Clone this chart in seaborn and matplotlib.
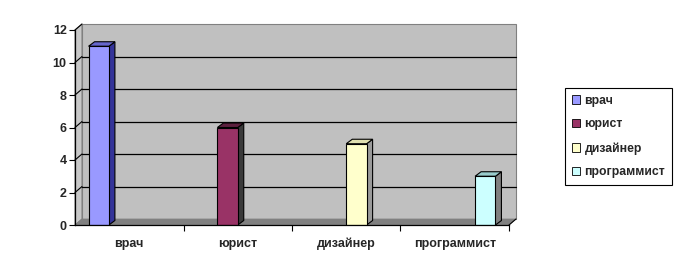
import matplotlib
matplotlib.use("Agg")
import matplotlib.pyplot as plt
import seaborn as sns
import pandas as pd
from matplotlib.patches import Polygon
from matplotlib.lines import Line2D

categories = ["врач", "юрист", "дизайнер", "программист"]
values = [11, 6, 5, 3]
front_colors = ["#9999FF", "#993366", "#FFFFCC", "#CCFFFF"]
side_colors = ["#333399", "#3a3a3a", "#9a9a9a", "#808080"]
top_colors = ["#6666CC", "#5c1f3d", "#e0e0b0", "#99cccc"]
yticks = [0, 2, 4, 6, 8, 10, 12]

sns.set_theme(style="white")
plt.rcParams["font.family"] = ["Liberation Sans", "DejaVu Sans"]
plt.rcParams["font.weight"] = "bold"

df = pd.DataFrame({"cat": categories, "val": values})

fig = plt.figure(figsize=(6.85, 2.71), dpi=100)
ax = fig.add_axes([75/685, 1-225/271, 434/685, 195/271])
ax.set_facecolor("none")

sns.barplot(data=df, x="cat", y="val", hue="cat", order=categories,
            hue_order=categories, palette=front_colors, dodge=True,
            saturation=1, width=0.75, edgecolor="black", linewidth=0.8,
            ax=ax, legend=False, zorder=3)

ax.set_xlim(-0.5, 3.5)
ax.set_ylim(0, 12)

def off(x, y, dx, dy):
    px, py = ax.transData.transform((x, y))
    return tuple(ax.transData.inverted().transform((px + dx, py + dy)))

WDX, WDY = 7, 6
# back wall
wall = [off(-0.5, 0, WDX, WDY), off(3.5, 0, WDX, WDY),
        off(3.5, 12, WDX, WDY), off(-0.5, 12, WDX, WDY)]
ax.add_patch(Polygon(wall, closed=True, facecolor="#C0C0C0",
                     edgecolor="#808080", lw=0.8, zorder=0, clip_on=False))
# left side wall
lw_ = [(-0.5, 0), (-0.5, 12), off(-0.5, 12, WDX, WDY), off(-0.5, 0, WDX, WDY)]
ax.add_patch(Polygon(lw_, closed=True, facecolor="#C8C8C8",
                     edgecolor="#808080", lw=0.8, zorder=0.2, clip_on=False))
# floor
fl = [(-0.5, 0), (3.5, 0), off(3.5, 0, WDX, WDY), off(-0.5, 0, WDX, WDY)]
ax.add_patch(Polygon(fl, closed=True, facecolor="#808080",
                     edgecolor="#808080", lw=0.5, zorder=0.3, clip_on=False))
# gridlines on wall + diagonals
for t in yticks[1:]:
    a = off(-0.5, t, WDX, WDY)
    b = off(3.5, t, WDX, WDY)
    if t < 12:
        ax.add_line(Line2D([a[0], b[0]], [a[1], b[1]], color="black",
                           lw=0.9, zorder=0.5, clip_on=False))
    ax.add_line(Line2D([-0.5, a[0]], [t, a[1]], color="black", lw=0.8,
                       zorder=0.5, clip_on=False))
# right depth line at floor
c = off(3.5, 0, WDX, WDY)
ax.add_line(Line2D([3.5, c[0]], [0, c[1]], color="black", lw=0.8,
                   zorder=0.5, clip_on=False))

# 3D faces for bars
BDX, BDY = 6, 4.5
bars = [p for p in ax.patches if hasattr(p, "get_height") and p.get_height() > 0
        and p.get_width() < 1]
for p in bars:
    x0, w, h = p.get_x(), p.get_width(), p.get_height()
    col = p.get_facecolor()
    idx = min(range(4), key=lambda i: sum(abs(a - b) for a, b in
              zip(matplotlib.colors.to_rgba(front_colors[i]), col)))
    side = [(x0 + w, 0), (x0 + w, h), off(x0 + w, h, BDX, BDY), off(x0 + w, 0, BDX, BDY)]
    top = [(x0, h), (x0 + w, h), off(x0 + w, h, BDX, BDY), off(x0, h, BDX, BDY)]
    ax.add_patch(Polygon(side, closed=True, facecolor=side_colors[idx],
                         edgecolor="black", lw=0.8, zorder=2.9, clip_on=False))
    ax.add_patch(Polygon(top, closed=True, facecolor=top_colors[idx],
                         edgecolor="black", lw=0.8, zorder=2.9, clip_on=False))

for s in ["top", "right"]:
    ax.spines[s].set_visible(False)
for s in ["left", "bottom"]:
    ax.spines[s].set_color("black")
    ax.spines[s].set_linewidth(0.9)
    ax.spines[s].set_zorder(4)

ax.set_yticks(yticks)
ax.set_yticklabels([str(t) for t in yticks], fontsize=9, fontweight="bold")
ax.tick_params(axis="y", direction="out", length=4, width=0.8, color="black",
               left=True, pad=2)
ax.set_xticks(range(4))
ax.set_xticklabels(categories, fontsize=9, fontweight="bold")
ax.tick_params(axis="x", which="major", length=0, pad=9)
ax.set_xticks([0.5, 1.5, 2.5, 3.5], minor=True)
ax.tick_params(axis="x", which="minor", direction="out", length=4, width=0.8,
               color="black", bottom=True)
ax.set_xlabel("")
ax.set_ylabel("")

handles = [plt.Rectangle((0, 0), 1, 1, facecolor=c, edgecolor="black", lw=0.6)
           for c in front_colors]
leg = fig.legend(handles, categories, loc="center left",
                 bbox_to_anchor=(565/685, 1-136.5/271), frameon=True,
                 fancybox=False, edgecolor="black", framealpha=1,
                 prop={"size": 8.8, "weight": "bold"}, handlelength=0.7,
                 handleheight=0.7, handletextpad=0.35, labelspacing=0.95,
                 borderpad=0.55, borderaxespad=0)
leg.get_frame().set_linewidth(0.8)

fig.savefig("out.png", dpi=100)
